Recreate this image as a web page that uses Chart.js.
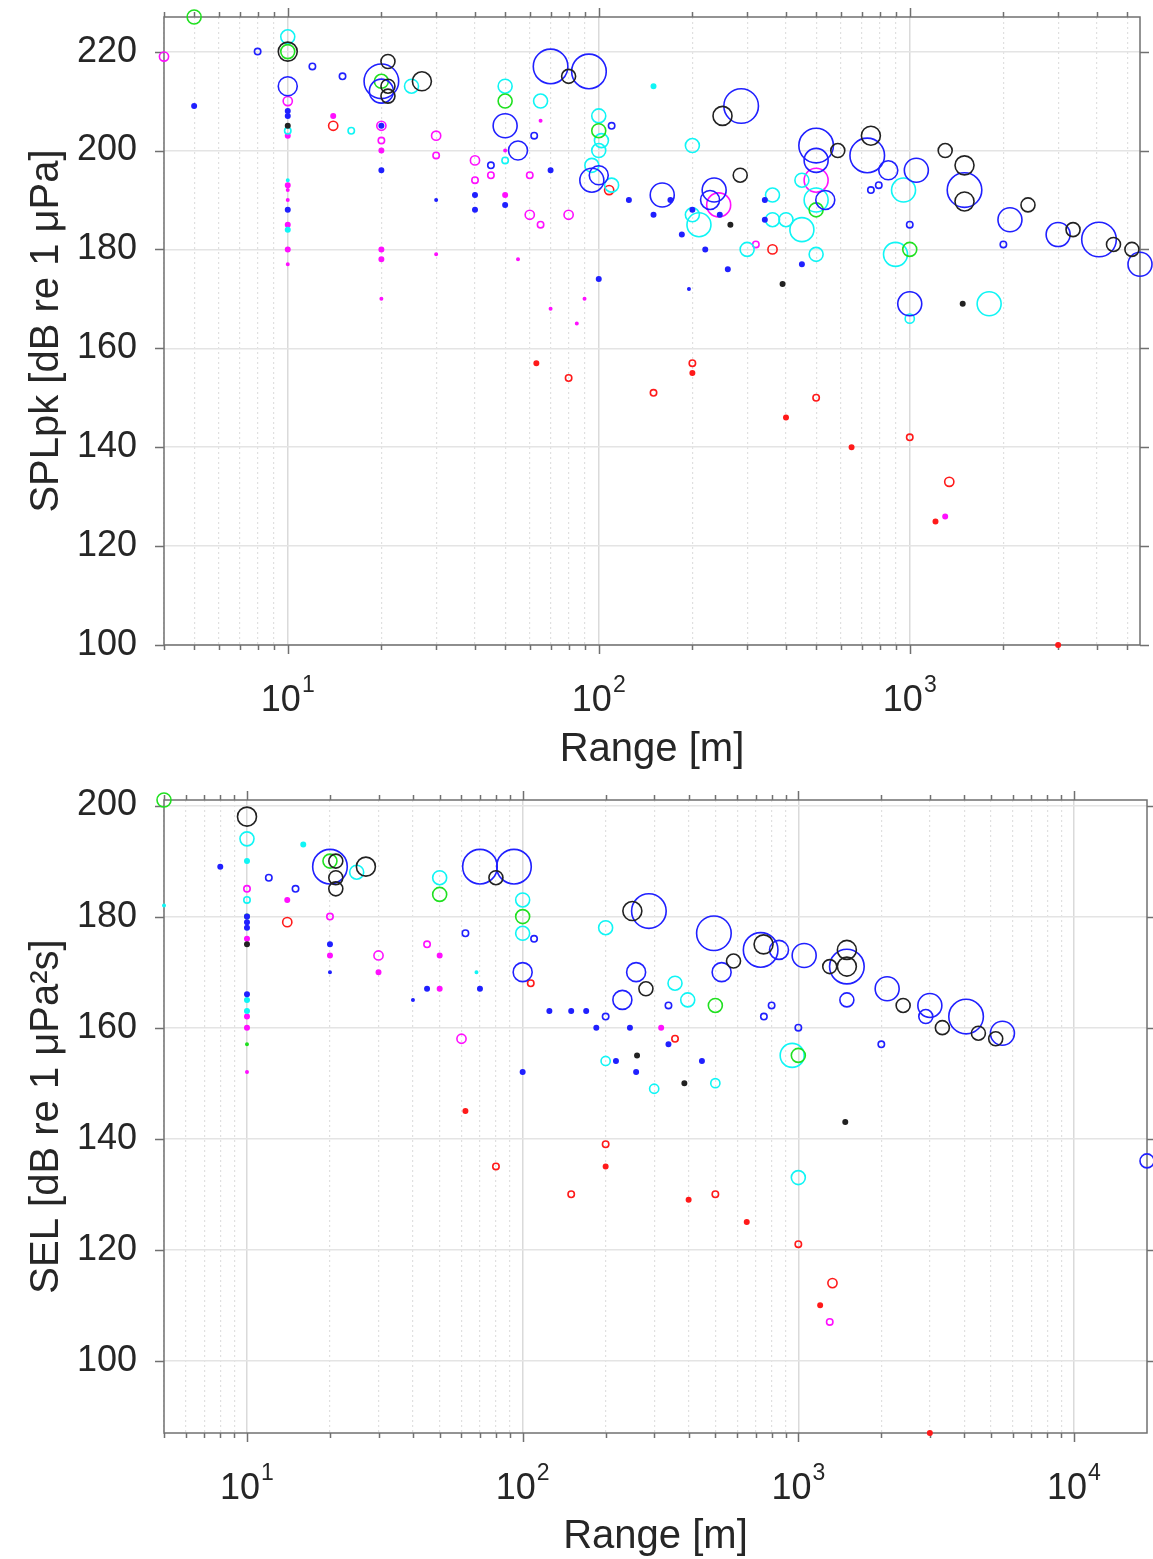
<!DOCTYPE html>
<html>
<head>
<meta charset="utf-8">
<script src="https://cdn.jsdelivr.net/npm/chart.js@4.4.0/dist/chart.umd.min.js"></script>
<style>
  html, body { margin: 0; padding: 0; background: #fff; }
  .panel { position: relative; width: 1153px; }
  canvas { display: block; }
</style>
</head>
<body>
<div class="panel" style="height:780px"><canvas id="splChart" width="1153" height="780"></canvas></div>
<div class="panel" style="height:779px"><canvas id="selChart" width="1153" height="779"></canvas></div>
<script>
// data points are [range (m), level (dB), size class]

// --- SPLpk panel ---
const splRangeLimits = [4, 5500];
const splLevelLimits = [100, 227];
const splLevelTicks = [100, 120, 140, 160, 180, 200, 220];
const splDecades = [10, 100, 1000];

const splBlack = [
  [10, 220, 6], [21, 218, 5], [21, 213, 5], [21, 211, 5], [27, 214, 6], [10, 205, 2],
  [80, 215, 5], [250, 207, 6], [285, 195, 5], [265, 185, 2], [390, 173, 2], [587, 200, 5],
  [750, 203, 6], [1300, 200, 5], [1500, 197, 6], [1500, 189.7, 6], [1480, 169, 2],
  [2400, 189, 5], [3350, 184, 5], [4520, 181, 5], [5180, 180, 5]
];
const splBlue = [
  [5, 209, 2], [8, 220, 3], [10, 213, 6], [10, 208, 2], [10, 207, 2], [10, 188, 2],
  [12, 217, 3], [15, 215, 3], [20, 214, 8], [20, 212, 7], [20, 205, 2], [20, 196, 2],
  [30, 190, 1], [40, 191, 2], [40, 188, 2], [45, 197, 3], [50, 205, 7], [50, 189, 2],
  [55, 200, 6], [62, 203, 3], [70, 217, 8], [70, 196, 2], [93, 216, 8], [95, 194, 7],
  [100, 195, 6], [100, 174, 2], [110, 205, 3], [125, 190, 2], [160, 191, 7], [170, 190, 2],
  [150, 187, 2], [185, 183, 2], [195, 172, 1], [200, 188, 2], [220, 180, 2], [228, 190, 6],
  [235, 192, 7], [245, 187, 2], [260, 176, 2], [287, 209, 8], [342, 190, 2], [342, 186, 2],
  [450, 177, 2], [500, 201, 8], [500, 198, 7], [535, 190, 6], [730, 199, 8], [750, 192, 3],
  [795, 193, 3], [853, 196, 6], [1000, 185, 3], [1000, 169, 7], [1050, 196, 7], [1500, 192, 8],
  [2000, 181, 3], [2100, 186, 7], [3000, 183, 7], [4060, 182, 8], [5500, 177, 7]
];
const splCyan = [
  [10, 223, 5], [10, 204, 3], [10, 194, 1], [10, 184, 2], [16, 204, 3], [25, 213, 5],
  [50, 213, 5], [50, 198, 3], [65, 210, 5], [95, 197, 5], [100, 207, 5], [102, 202, 5],
  [100, 200, 5], [110, 193, 5], [150, 213, 2], [200, 201, 5], [200, 187, 5], [210, 185, 7],
  [300, 180, 5], [362, 191, 5], [362, 186, 5], [400, 186, 5], [450, 184, 7], [450, 194, 5],
  [500, 179, 5], [500, 190, 7], [900, 179, 7], [955, 192, 7], [1000, 166, 4], [1800, 169, 7]
];
const splGreen = [
  [5, 227, 5], [10, 220, 5], [20, 214, 5], [50, 210, 5], [100, 204, 5], [500, 188, 5], [1000, 180, 5]
];
const splMagenta = [
  [4, 219, 4], [10, 210, 4], [10, 203, 2], [10, 193, 2], [10, 192, 1], [10, 190, 1],
  [10, 185, 2], [10, 180, 2], [10, 177, 1], [14, 207, 2], [20, 205, 4], [20, 202, 3],
  [20, 200, 2], [20, 180, 2], [20, 178, 2], [20, 170, 1], [30, 203, 4], [30, 199, 3],
  [30, 179, 1], [40, 198, 4], [40, 194, 3], [45, 195, 3], [50, 191, 2], [50, 200, 1],
  [55, 178, 1], [60, 187, 4], [60, 195, 3], [65, 185, 3], [65, 206, 1], [70, 168, 1],
  [80, 187, 4], [85, 165, 1], [90, 170, 1], [243, 189, 7], [320, 181, 3], [500, 194, 7],
  [1300, 126, 2]
];
const splRed = [
  [14, 205, 4], [108, 192, 4], [362, 180, 4], [63, 157, 2], [80, 154, 3], [150, 151, 3],
  [200, 157, 3], [200, 155, 2], [400, 146, 2], [500, 150, 3], [650, 140, 2], [1000, 142, 3],
  [1340, 133, 4], [1210, 125, 2], [3000, 100, 2]
];

// --- SEL panel ---
const selRangeLimits = [5, 18400];
const selLevelLimits = [87, 201];
const selLevelTicks = [100, 120, 140, 160, 180, 200];
const selDecades = [10, 100, 1000, 10000];

const selBlack = [
  [10, 198, 6], [10, 175, 2], [21, 190, 5], [21, 187, 5], [21, 185, 5], [27, 189, 6],
  [80, 187, 5], [250, 181, 6], [280, 167, 5], [260, 155, 2], [386, 150, 2], [582, 172, 5],
  [748, 175, 6], [1300, 171, 5], [1500, 174, 6], [1500, 171, 6], [1480, 143, 2],
  [2400, 164, 5], [3330, 160, 5], [4500, 159, 5], [5200, 158, 5]
];
const selBlue = [
  [8, 189, 2], [10, 180, 2], [10, 179, 2], [10, 178, 2], [10, 166, 2], [12, 187, 3],
  [15, 185, 3], [20, 189, 8], [20, 175, 2], [20, 170, 1], [40, 165, 1], [45, 167, 2],
  [62, 177, 3], [70, 189, 8], [70, 167, 2], [93, 189, 8], [100, 170, 6], [110, 176, 3],
  [100, 152, 2], [125, 163, 2], [150, 163, 2], [170, 163, 2], [185, 160, 2], [200, 162, 3],
  [218, 154, 2], [230, 165, 6], [245, 160, 2], [258, 152, 2], [258, 170, 6], [287, 181, 8],
  [338, 164, 3], [338, 157, 2], [447, 154, 2], [494, 177, 8], [527, 170, 6], [730, 174, 8],
  [750, 162, 3], [800, 164, 3], [851, 174, 6], [1000, 160, 3], [1050, 173, 7], [1500, 171, 8],
  [1500, 165, 5], [2000, 157, 3], [2100, 167, 7], [2900, 162, 5], [3000, 164, 7],
  [4060, 162, 8], [5500, 159, 7], [18400, 136, 5]
];
const selCyan = [
  [5, 182, 1], [10, 194, 5], [10, 190, 2], [10, 183, 3], [10, 165, 2], [10, 163, 2],
  [16, 193, 2], [25, 188, 5], [50, 187, 5], [68, 170, 1], [100, 183, 5], [100, 177, 5],
  [200, 178, 5], [200, 154, 4], [300, 149, 4], [357, 168, 5], [397, 165, 5], [500, 150, 4],
  [950, 155, 7], [1000, 133, 5]
];
const selGreen = [
  [5, 201, 5], [10, 180, 2], [10, 157, 1], [20, 190, 5], [50, 184, 5], [100, 180, 5],
  [500, 164, 5], [1000, 155, 5]
];
const selMagenta = [
  [10, 185, 3], [10, 176, 2], [10, 162, 2], [10, 160, 2], [10, 152, 1], [14, 183, 2],
  [20, 180, 3], [20, 173, 2], [30, 173, 4], [30, 170, 2], [45, 175, 3], [50, 173, 2],
  [50, 167, 2], [60, 158, 4], [318, 160, 2], [1300, 107, 3]
];
const selRed = [
  [14, 179, 4], [107, 168, 3], [62, 145, 2], [80, 135, 3], [150, 130, 3], [200, 139, 3],
  [200, 135, 2], [357, 158, 3], [400, 129, 2], [500, 130, 3], [650, 125, 2], [1000, 121, 3],
  [1330, 114, 4], [1200, 110, 2], [3000, 87, 2]
];

// --- styling ---
const FONT = '"Liberation Sans", Arial, Helvetica, sans-serif';
const TEXT = '#262626';
const AXIS = '#707070';
const markerRadius = [0, 1.2, 2.2, 3.2, 4.6, 7, 9.5, 12, 17.3];
const colors = { black: '#222222', blue: '#2020ff', cyan: '#10f5f5', green: '#20e020', magenta: '#ff10ff', red: '#ff1a1a' };

Chart.defaults.font.family = FONT;
Chart.defaults.color = TEXT;

const isDecade = v => Math.abs(Math.log10(v) - Math.round(Math.log10(v))) < 1e-9;

// box, outward ticks on all four sides and 10^n labels, like a matlab axes
const matlabAxes = {
  id: 'matlabAxes',
  beforeDatasetsDraw(chart) {
    const { ctx, chartArea: a, scales: { x, y } } = chart;
    ctx.save();
    ctx.strokeStyle = AXIS;
    ctx.lineWidth = 1.5;
    ctx.beginPath();
    x.ticks.forEach(t => {
      const px = Math.round(x.getPixelForValue(t.value)) + 0.5;
      const len = isDecade(t.value) ? 9 : 5;
      ctx.moveTo(px, a.bottom); ctx.lineTo(px, a.bottom + len);
      ctx.moveTo(px, a.top); ctx.lineTo(px, a.top - len);
    });
    y.ticks.forEach(t => {
      const py = Math.round(y.getPixelForValue(t.value)) + 0.5;
      ctx.moveTo(a.left, py); ctx.lineTo(a.left - 9, py);
      ctx.moveTo(a.right, py); ctx.lineTo(a.right + 9, py);
    });
    ctx.stroke();
    ctx.strokeRect(a.left, a.top, a.right - a.left, a.bottom - a.top);
    ctx.restore();
  },
  afterDraw(chart, args, opts) {
    const { ctx, chartArea: a, scales: { x } } = chart;
    const base = a.bottom + opts.labelDrop;
    ctx.save();
    ctx.fillStyle = TEXT;
    ctx.textAlign = 'left';
    ctx.textBaseline = 'alphabetic';
    opts.decades.forEach(v => {
      const px = x.getPixelForValue(v);
      const exp = String(Math.round(Math.log10(v)));
      ctx.font = '36px ' + FONT;
      const w1 = ctx.measureText('10').width;
      ctx.font = '23px ' + FONT;
      const w2 = ctx.measureText(exp).width;
      const left = px - (w1 + 1 + w2) / 2;
      ctx.font = '36px ' + FONT;
      ctx.fillText('10', left, base);
      ctx.font = '23px ' + FONT;
      ctx.fillText(exp, left + w1 + 1, base - 19);
    });
    ctx.restore();
  }
};

function toDataset(points, color) {
  return {
    data: points.map(([range, level, cls]) => ({ x: range, y: level, r: markerRadius[cls] })),
    borderColor: color,
    backgroundColor: ctx => (ctx.raw && ctx.raw.r < 2.5 ? color : 'rgba(0,0,0,0)'),
    borderWidth: 1.6,
    clip: false
  };
}

function makeChart(canvasId, cfg) {
  const datasets = [
    toDataset(cfg.black, colors.black),
    toDataset(cfg.blue, colors.blue),
    toDataset(cfg.green, colors.green),
    toDataset(cfg.cyan, colors.cyan),
    toDataset(cfg.magenta, colors.magenta),
    toDataset(cfg.red, colors.red)
  ];
  return new Chart(document.getElementById(canvasId), {
    type: 'bubble',
    data: { datasets },
    plugins: [matlabAxes],
    options: {
      responsive: false,
      animation: false,
      events: [],
      layout: { padding: cfg.padding, autoPadding: false },
      plugins: {
        legend: { display: false },
        tooltip: { enabled: false },
        matlabAxes: { decades: cfg.decades, labelDrop: 66 }
      },
      scales: {
        x: {
          type: 'logarithmic',
          min: cfg.rangeLimits[0],
          max: cfg.rangeLimits[1],
          afterBuildTicks: scale => {
            const ticks = [];
            const lo = Math.floor(Math.log10(scale.min));
            const hi = Math.ceil(Math.log10(scale.max));
            for (let e = lo; e <= hi; e++) {
              for (let k = 1; k <= 9; k++) {
                const v = k * Math.pow(10, e);
                if (v >= scale.min && v <= scale.max) ticks.push({ value: v });
              }
            }
            scale.ticks = ticks;
          },
          afterFit: scale => {
            scale.height = cfg.xAxisHeight;
            scale.paddingLeft = 0;
            scale.paddingRight = 0;
          },
          ticks: { display: false },
          grid: {
            drawTicks: false,
            color: ctx => (ctx.tick && isDecade(ctx.tick.value) ? '#dadada' : '#e0e0e0'),
            lineWidth: ctx => (ctx.tick && isDecade(ctx.tick.value) ? 1.5 : 1.2)
          },
          border: {
            display: false,
            dash: ctx => (ctx.tick && isDecade(ctx.tick.value) ? [] : [2, 3])
          },
          title: {
            display: true,
            text: 'Range [m]',
            color: TEXT,
            font: { size: 40 },
            padding: { top: 0, bottom: cfg.xTitlePad }
          }
        },
        y: {
          type: 'linear',
          min: cfg.levelLimits[0],
          max: cfg.levelLimits[1],
          afterBuildTicks: scale => { scale.ticks = cfg.levelTicks.map(v => ({ value: v })); },
          afterFit: scale => {
            scale.width = 164;
            scale.paddingTop = 0;
            scale.paddingBottom = 0;
          },
          ticks: { color: TEXT, font: { size: 36 }, padding: 27 },
          grid: { drawTicks: false, color: '#e4e4e4', lineWidth: 1.5 },
          border: { display: false },
          title: {
            display: true,
            text: cfg.yTitle,
            color: TEXT,
            font: { size: 40 },
            padding: { top: 23, bottom: 0 }
          }
        }
      }
    }
  });
}

makeChart('splChart', {
  black: splBlack, blue: splBlue, cyan: splCyan, green: splGreen, magenta: splMagenta, red: splRed,
  rangeLimits: splRangeLimits, levelLimits: splLevelLimits, levelTicks: splLevelTicks,
  decades: splDecades, yTitle: 'SPLpk [dB re 1 μPa]',
  padding: { top: 17, right: 13, bottom: 0, left: 0 }, xAxisHeight: 135, xTitlePad: 6
});

makeChart('selChart', {
  black: selBlack, blue: selBlue, cyan: selCyan, green: selGreen, magenta: selMagenta, red: selRed,
  rangeLimits: selRangeLimits, levelLimits: selLevelLimits, levelTicks: selLevelTicks,
  decades: selDecades, yTitle: 'SEL [dB re 1 μPa²s]',
  padding: { top: 20, right: 6, bottom: 0, left: 0 }, xAxisHeight: 126, xTitlePad: -2
});
</script>
</body>
</html>
